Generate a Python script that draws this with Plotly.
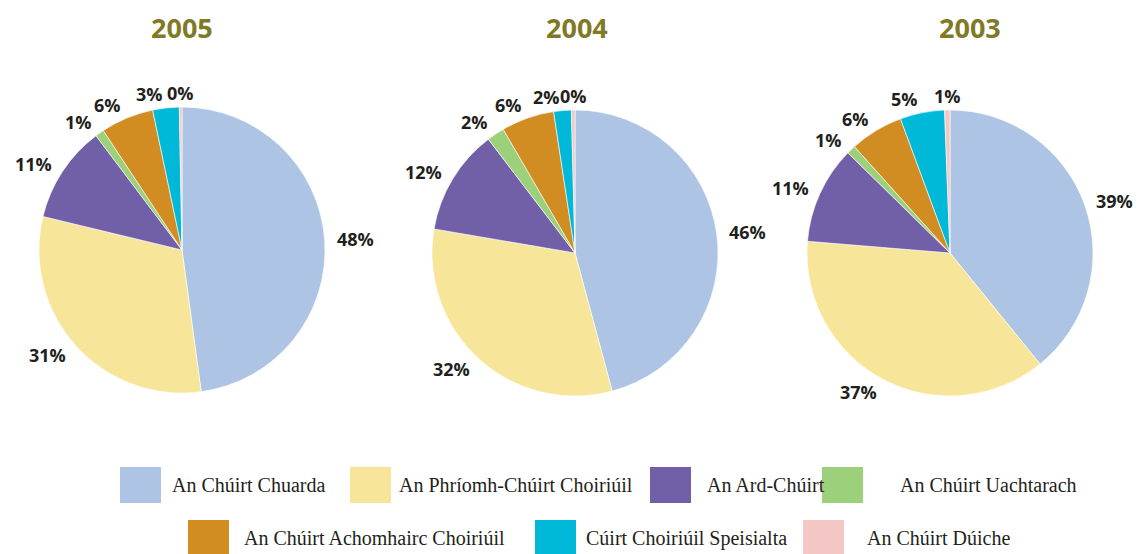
import math
import plotly.graph_objects as go

courts = ["An Chúirt Chuarda", "An Phríomh-Chúirt Choiriúil", "An Ard-Chúirt",
          "An Chúirt Uachtarach", "An Chúirt Achomhairc Choiriúil",
          "Cúirt Choiriúil Speisialta", "An Chúirt Dúiche"]
colors = ["#aec4e5", "#f7e59a", "#7160a8", "#9dd07a", "#d18c22", "#00b9d9", "#f4c6c4"]

years = ["2005", "2004", "2003"]
share_2005 = [48, 31, 11, 1, 6, 3, 0.3]
share_2004 = [46, 32, 12, 2, 6, 2, 0.4]
share_2003 = [39, 37, 11, 1, 6, 5, 0.6]

# page body has an 8px margin, so work in window pixels and convert
OFF = 8
FW, FH = 1145 - OFF, 554 - OFF


def px_x(X):
    return (X - OFF) / FW


def px_y(Y):
    return 1 - (Y - OFF) / FH


fig = go.Figure()

pies = [(share_2005, 182, 250), (share_2004, 575, 253), (share_2003, 950, 253)]
R = 143
for vals, cx, cy in pies:
    fig.add_trace(go.Pie(
        labels=courts, values=vals, sort=False, direction="clockwise", rotation=0,
        marker=dict(colors=colors, line=dict(color="white", width=0.6)),
        textinfo="none",
        domain=dict(x=[px_x(cx - R), px_x(cx + R)], y=[px_y(cy + R), px_y(cy - R)]),
        showlegend=False, hoverinfo="label+percent",
    ))
    # percentage labels outside each slice, at the slice's mid angle
    total = sum(vals)
    cum = 0
    for v in vals:
        a = 2 * math.pi * (cum + v / 2) / total
        cum += v
        s, c = math.sin(a), math.cos(a)
        if abs(s) < 0.03:
            xa = "center"
        else:
            xa = "left" if s > 0 else "right"
        fig.add_annotation(
            x=px_x(cx + (R + 10) * s), y=px_y(cy - (R + 14) * c),
            xref="paper", yref="paper", text=f"{round(100 * v / total)}%",
            xanchor=xa, yanchor="middle", showarrow=False,
            font=dict(family="Open Sans", size=18, color="#231f20", weight="bold"))

# year titles
for yr, tx in zip(years, [182, 577, 970]):
    fig.add_annotation(x=px_x(tx), y=1, xref="paper", yref="paper", text=yr,
                       xanchor="center", yanchor="top", showarrow=False, borderpad=0,
                       font=dict(family="Open Sans", size=27, color="#807a26", weight="bold"))

# legend (drawn by hand to get the large swatches)
leg = [(120, 485, 170), (350, 485, 397), (650, 485, 705), (822, 485, 898),
       (188, 538, 242), (535, 538, 584), (803, 538, 865)]
for name, col, (sx, sy, tx) in zip(courts, colors, leg):
    fig.add_shape(type="rect", xref="paper", yref="paper",
                  x0=px_x(sx), x1=px_x(sx + 41), y0=px_y(sy + 18), y1=px_y(sy - 18),
                  fillcolor=col, line=dict(width=0))
    fig.add_annotation(x=px_x(tx), y=px_y(sy), xref="paper", yref="paper", text=name,
                       xanchor="left", yanchor="middle", showarrow=False,
                       font=dict(family="Liberation Serif", size=20, color="#231f20"))

fig.update_layout(width=FW, height=FH, margin=dict(l=0, r=0, t=0, b=0),
                  paper_bgcolor="white", plot_bgcolor="white")
fig.write_html("out.html")
